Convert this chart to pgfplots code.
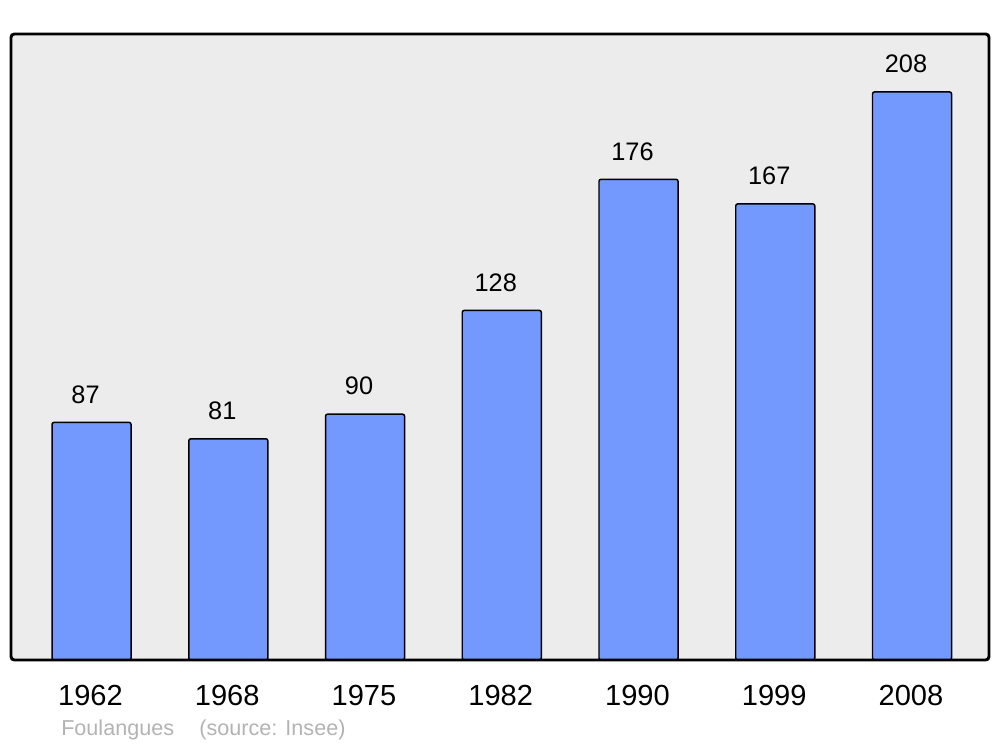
\documentclass[border=0pt]{standalone}
\usepackage{fontspec}
\setmainfont{Liberation Sans}
\usepackage{pgfplots}
\pgfplotsset{compat=1.18}
\definecolor{barblue}{HTML}{7399FF}
\definecolor{bgray}{HTML}{ECECEC}
\definecolor{srcgray}{HTML}{B3B3B3}
\begin{document}
\begin{tikzpicture}
\begin{axis}[
  scale only axis,
  width=733.5pt, height=469.5pt,
  xmin=-0.589, xmax=6.563,
  ymin=0, ymax=229.2,
  ytick=\empty,
  xtick={0,1,2,3,4,5,6},
  xticklabels={1962,1968,1975,1982,1990,1999,2008},
  major tick length=0pt,
  xticklabel style={font=\fontsize{21.8}{26}\selectfont, anchor=center, yshift=-26.25pt, xshift=-0.8pt},
  axis line style={draw=none},
  axis background/.style={fill=bgray},
  /pgf/number format/assume math mode=true,
  ybar, bar width=0.578,
  nodes near coords,
  every node near coord/.append style={font=\fontsize{19}{23}\selectfont, anchor=center, yshift=21pt, xshift=-4.5pt, text=black},
  clip=false,
]
\addplot[draw=black, line width=1.1pt, fill=barblue, rounded corners=1.5pt] coordinates {
(0,87) (1,81) (2,90) (3,128) (4,176) (5,167) (6,208)};
\draw[line width=2.2pt, rounded corners=2.5pt] (rel axis cs:0,0) rectangle (rel axis cs:1,1);
\end{axis}
\node[anchor=west, text=srcgray, font=\fontsize{16.2}{19}\selectfont, inner sep=0pt] at ([shift={(37.5pt,-52.5pt)}]current axis.south west) {Foulangues\hspace{19pt}(source: Insee)};
\path ([shift={(-8.25pt,-65.25pt)}]current axis.south west) rectangle ([shift={(8.25pt,25.5pt)}]current axis.north east);
\end{tikzpicture}
\end{document}
